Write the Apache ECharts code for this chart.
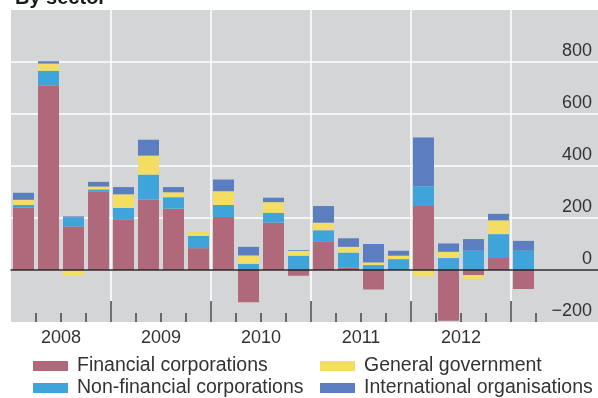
<!DOCTYPE html>
<html>
<head>
<meta charset="utf-8">
<script src="https://cdn.jsdelivr.net/npm/echarts@6.0.0/dist/echarts.min.js"></script>
<style>
html, body { margin: 0; padding: 0; background: #fff; }
#main { width: 598px; height: 398px; }
</style>
</head>
<body>
<div id="main"></div>
<script>
// quarterly flows, 2008 Q1 - 2013 Q1
var quarters = ['2008 Q1', '2008 Q2', '2008 Q3', '2008 Q4',
  '2009 Q1', '2009 Q2', '2009 Q3', '2009 Q4',
  '2010 Q1', '2010 Q2', '2010 Q3', '2010 Q4',
  '2011 Q1', '2011 Q2', '2011 Q3', '2011 Q4',
  '2012 Q1', '2012 Q2', '2012 Q3', '2012 Q4',
  '2013 Q1'];
var years = ['2008', '2009', '2010', '2011', '2012'];

var financial    = [240, 711, 167, 303, 195, 271, 236, 84, 204, -124, 182, -22, 108, 10, -75, 0, 246, -195, -20, 46, -73];
var nonFinancial = [10, 55, 34, 7, 44, 96, 44, 47, 46, 24, 38, 55, 45, 57, 19, 42, 76, 46, 74, 92, 74];
var generalGov   = [20, 28, -22, 11, 52, 73, 19, 15, 53, 32, 41, 19, 29, 22, 10, 13, -24, 24, -16, 53, 0];
var intlOrgs     = [27, 9, 5, 18, 28, 61, 20, 0, 45, 33, 17, 3, 64, 33, 71, 19, 188, 32, 45, 25, 38];

var names = ['Financial corporations', 'Non-financial corporations', 'General government', 'International organisations'];
var colors = ['#b0687b', '#3ea4da', '#f4dd63', '#5b7ec0'];

var font = 'Liberation Sans, Arial, sans-serif';

// tick positions in quarter units
var minorTicks = [], majorTicks = [], labelPos = [];
for (var i = 1; i <= quarters.length; i++) {
  if (i % 4 === 0) majorTicks.push(i); else minorTicks.push(i);
}
for (var j = 0; j < years.length; j++) labelPos.push(j * 4 + 2);

var chart = echarts.init(document.getElementById('main'));

function bar(k, data) {
  return {
    name: names[k],
    type: 'bar',
    stack: 'total',
    xAxisIndex: 0,
    yAxisIndex: 1,
    barWidth: 21,
    itemStyle: { color: colors[k] },
    data: data
  };
}

chart.setOption({
  animation: false,
  textStyle: { fontFamily: font },
  title: {
    text: 'By sector',
    left: 10,
    top: -17,
    textStyle: { fontSize: 20, fontWeight: 'bold', color: '#1a1a1a', fontFamily: font }
  },
  legend: [{
    data: [names[0], names[1]],
    orient: 'vertical',
    left: 33,
    top: 356,
    padding: 0,
    itemWidth: 35,
    itemHeight: 10,
    itemGap: 2,
    icon: 'rect',
    selectedMode: false,
    textStyle: { fontSize: 19.5, color: '#333', padding: [0, 0, 0, 4], fontFamily: font }
  }, {
    data: [names[2], names[3]],
    orient: 'vertical',
    left: 320,
    top: 356,
    padding: 0,
    itemWidth: 35,
    itemHeight: 10,
    itemGap: 2,
    icon: 'rect',
    selectedMode: false,
    textStyle: { fontSize: 19.5, color: '#333', padding: [0, 0, 0, 4], fontFamily: font }
  }],
  grid: [{
    left: 11, right: 0, top: 10, bottom: 76,
    show: true,
    backgroundColor: '#d3d5d7',
    borderWidth: 0,
    outerBoundsMode: 'none'
  }, {
    left: 11, width: 525, top: 10, bottom: 76,
    outerBoundsMode: 'none'
  }],
  xAxis: [{
    gridIndex: 1,
    type: 'category',
    data: quarters,
    axisLine: { show: false, onZero: false },
    axisTick: { show: false },
    axisLabel: { show: false },
    splitLine: {
      show: true,
      interval: function (idx) { return idx % 4 === 0; },
      showMinLine: false,
      showMaxLine: false,
      lineStyle: { color: '#fff', width: 1.5 }
    }
  }, {
    gridIndex: 1,
    type: 'value',
    min: 0,
    max: quarters.length,
    position: 'bottom',
    axisLine: { show: false, onZero: false },
    splitLine: { show: false },
    axisTick: { show: true, inside: true, length: 9, customValues: minorTicks, lineStyle: { color: '#444', width: 1.5 } },
    axisLabel: {
      customValues: labelPos,
      margin: 7,
      fontSize: 18,
      color: '#333',
      formatter: function (v) { return years[(v - 2) / 4]; }
    }
  }, {
    gridIndex: 1,
    type: 'value',
    min: 0,
    max: quarters.length,
    position: 'bottom',
    axisLine: { show: false, onZero: false },
    splitLine: { show: false },
    axisTick: { show: true, inside: true, length: 21, customValues: majorTicks, lineStyle: { color: '#444', width: 1.5 } },
    axisLabel: { show: false }
  }, {
    gridIndex: 0,
    type: 'value',
    min: 0,
    max: 1,
    z: 5,
    axisLine: { show: true, onZero: true, lineStyle: { color: '#262626', width: 1.5 } },
    axisTick: { show: false },
    axisLabel: { show: false },
    splitLine: { show: false }
  }],
  yAxis: [{
    gridIndex: 0,
    type: 'value',
    min: -200,
    max: 1000,
    interval: 200,
    position: 'right',
    axisLine: { show: false },
    axisTick: { show: false },
    splitLine: { show: true, showMinLine: false, showMaxLine: false, lineStyle: { color: '#fff', width: 1.5 } },
    axisLabel: {
      inside: true,
      margin: 6,
      verticalAlign: 'bottom',
      padding: [0, 0, 2, 0],
      fontSize: 18,
      color: '#333',
      formatter: function (v) {
        if (v >= 1000) return '';
        return v < 0 ? '\u2212' + Math.abs(v) : String(v);
      }
    }
  }, {
    gridIndex: 1,
    type: 'value',
    min: -200,
    max: 1000,
    interval: 200,
    show: false
  }],
  series: [
    bar(0, financial),
    bar(1, nonFinancial),
    bar(2, generalGov),
    bar(3, intlOrgs)
  ]
});
</script>
</body>
</html>
